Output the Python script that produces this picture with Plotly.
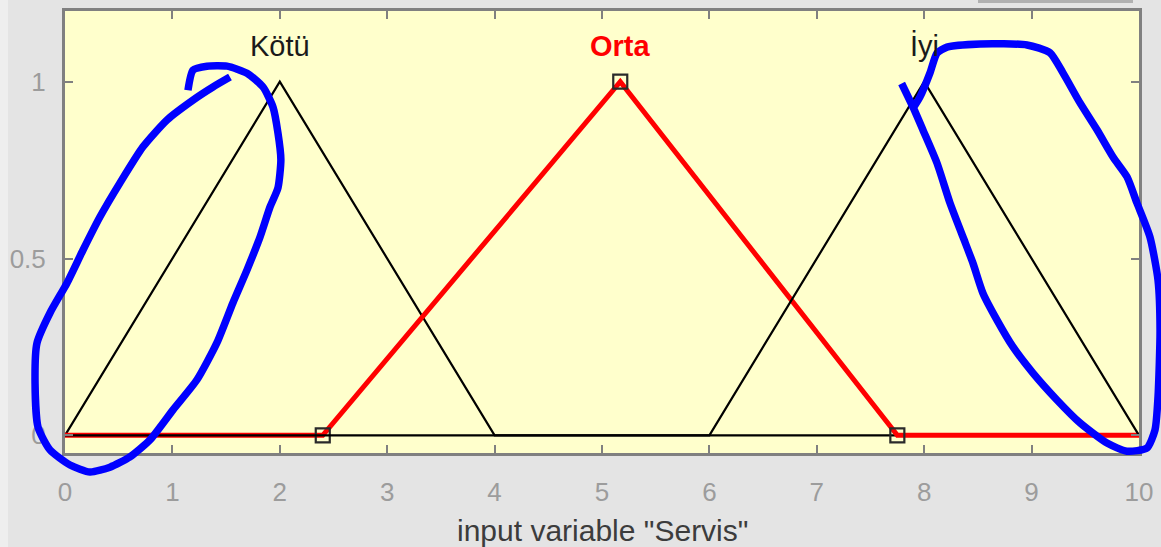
import plotly.graph_objects as go

W, H = 1161, 547

# axis ticks
x_ticks = list(range(0, 11))
y_ticks = [0, 0.5, 1]
y_tick_labels = ["0", "0.5", "1"]

# triangular membership functions [a, b, c]
mf_names = ["Kötü", "Orta", "İyi"]
kotu_params = [0, 2, 4]
orta_params = [2.4, 5.17, 7.75]
iyi_params = [6, 8, 10]
x_min, x_max = 0, 10

# hand-drawn blue marks over the screenshot (data units)
left_loop_x = [1.145, 1.192, 1.322, 1.508, 1.695, 1.844, 1.937, 1.983, 2.01, 1.983, 1.909,
               1.816, 1.695, 1.564, 1.415, 1.229, 1.006, 0.791, 0.605, 0.419, 0.233,
               0.047, -0.140, -0.251, -0.279, -0.261, -0.140, 0.019, 0.168, 0.326,
               0.512, 0.726, 0.950, 1.192, 1.378, 1.536]
left_loop_y = [0.976, 1.033, 1.044, 1.044, 1.024, 0.985, 0.928, 0.855, 0.78, 0.700, 0.646,
               0.561, 0.468, 0.375, 0.262, 0.157, 0.072, -0.013, -0.061, -0.090, -0.104,
               -0.084, -0.041, 0.023, 0.148, 0.261, 0.346, 0.431, 0.524, 0.618,
               0.714, 0.816, 0.892, 0.948, 0.985, 1.013]
right_loop_x = [7.790, 7.896, 7.989, 8.119, 8.240, 8.361, 8.454, 8.547, 8.678, 8.827,
                9.013, 9.236, 9.451, 9.702, 9.888, 10.074, 10.149, 10.177, 10.196,
                10.177, 10.102, 9.981, 9.888, 9.758, 9.609, 9.451, 9.292, 9.171,
                8.957, 8.520, 8.212, 8.119, 8.054, 7.961, 7.886]
right_loop_y = [0.995, 0.928, 0.863, 0.770, 0.657, 0.561, 0.487, 0.402, 0.326, 0.250,
                0.176, 0.100, 0.035, -0.022, -0.045, -0.036, 0.015, 0.108, 0.298,
                0.439, 0.561, 0.657, 0.731, 0.787, 0.864, 0.940, 1.025, 1.082,
                1.104, 1.107, 1.098, 1.081, 1.025, 0.957, 0.920]

# pixel box of the axes in the screenshot
box_l, box_r, box_t, box_b = 65, 1139, 11, 453
y_lo, y_hi = -0.05, 1.2

FONT = "Liberation Sans, Arial, sans-serif"
GRAY = "#808080"


def tri_path(p):
    a, b, c = p
    return [x_min, a, b, c, x_max], [0, 0, 1, 0, 0]


fig = go.Figure()

# draw order: Kötü, Orta (selected), İyi
for name, params in zip(mf_names, [kotu_params, orta_params, iyi_params]):
    xs, ys = tri_path(params)
    selected = name == "Orta"
    fig.add_trace(go.Scatter(
        x=xs, y=ys, mode="lines",
        line=dict(color="#ff0000" if selected else "#000000",
                  width=5 if selected else 2.2),
        hoverinfo="skip", showlegend=False,
    ))
    if selected:
        fig.add_trace(go.Scatter(
            x=params, y=[0, 1, 0], mode="markers",
            marker=dict(symbol="square-open", size=14, color="#2a2a2a",
                        line=dict(width=2.2, color="#2a2a2a")),
            hoverinfo="skip", showlegend=False,
        ))
    fig.add_annotation(
        x=params[1], y=1.1, xref="x", yref="y", text=f"<b>{name}</b>" if selected else name,
        showarrow=False, yanchor="middle",
        font=dict(family=FONT, size=29, color="#ff0000" if selected else "#1a1a1a"),
    )

# blue freehand loops on a full-figure overlay with the same data scale
for lx, ly in [(left_loop_x, left_loop_y), (right_loop_x, right_loop_y)]:
    fig.add_trace(go.Scatter(
        x=lx, y=ly, mode="lines", xaxis="x2", yaxis="y2",
        line=dict(color="#0000ff", width=7.5, shape="spline", smoothing=0.6),
        hoverinfo="skip", showlegend=False,
    ))

ppx = (box_r - box_l) / (x_max - x_min)
ppy = (box_b - box_t) / (y_hi - y_lo)

axis_style = dict(
    showline=True, linecolor=GRAY, linewidth=3, mirror="allticks",
    ticks="inside", ticklen=8, tickwidth=2, tickcolor=GRAY,
    showgrid=False, zeroline=False, fixedrange=True, automargin=False,
    tickfont=dict(family=FONT, size=26, color="#9c9c9c"),
)

fig.update_layout(
    width=W, height=H,
    margin=dict(l=0, r=0, t=0, b=0, autoexpand=False),
    paper_bgcolor="#e4e4e4",
    plot_bgcolor="rgba(0,0,0,0)",
    xaxis=dict(domain=[box_l / W, box_r / W], range=[x_min, x_max],
               tickvals=x_ticks, ticklabelstandoff=14, anchor="y", **axis_style),
    yaxis=dict(domain=[1 - box_b / H, 1 - box_t / H], range=[y_lo, y_hi],
               tickvals=y_ticks, ticktext=y_tick_labels, ticklabelstandoff=11,
               anchor="x", **axis_style),
    xaxis2=dict(domain=[0, 1], anchor="y2", visible=False, fixedrange=True,
                automargin=False,
                range=[x_min - box_l / ppx, x_max + (W - box_r) / ppx]),
    yaxis2=dict(domain=[0, 1], anchor="x2", visible=False, fixedrange=True,
                automargin=False,
                range=[y_lo - (H - box_b) / ppy, y_hi + box_t / ppy]),
    shapes=[
        dict(type="rect", xref="x domain", yref="y domain", x0=0, x1=1, y0=0, y1=1,
             fillcolor="#ffffcc", line=dict(width=0), layer="below"),
        dict(type="rect", xref="paper", yref="paper", x0=0, x1=8 / W, y0=0, y1=1,
             fillcolor="#eeeeee", line=dict(width=0), layer="below"),
        dict(type="rect", xref="paper", yref="paper", x0=978 / W, x1=1133 / W,
             y0=1 - 3 / H, y1=1, fillcolor="#b0b0b0", line=dict(width=0), layer="below"),
    ],
)

fig.add_annotation(
    x=(box_l + box_r) / 2 / W, y=1 - 530 / H, xref="paper", yref="paper",
    text='input variable "Servis"', showarrow=False, yanchor="middle",
    font=dict(family=FONT, size=30, color="#3c3c3c"),
)

# the page body has a default margin; remove it so the figure fills the window
fig.write_html(
    "out.html",
    config={"displayModeBar": False},
    post_script="document.body.style.margin='0';document.body.style.overflow='hidden';",
)
